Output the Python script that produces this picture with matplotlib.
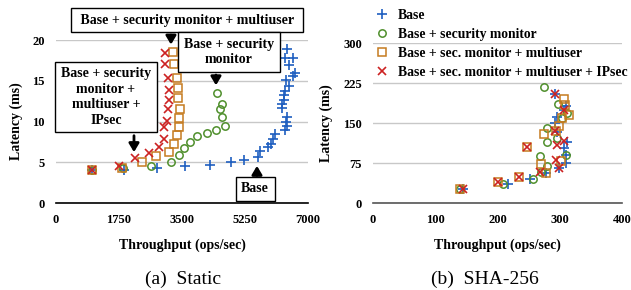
import matplotlib
matplotlib.use("Agg")
import matplotlib.pyplot as plt

plt.rcParams['font.family'] = ['Liberation Serif', 'DejaVu Serif']
plt.rcParams['font.weight'] = 'bold'

# ---- (a) Static : throughput (ops/sec) vs latency (ms)
static_base_x = [1000, 1900, 2800, 3590, 4290, 4850, 5230, 5620, 5670, 5900, 5970, 6040, 6070,
                 6370, 6410, 6390, 6430, 6270, 6270, 6320, 6320, 6365, 6480, 6385, 6580, 6645,
                 6480, 6365, 6580, 6430]
static_base_y = [4.1, 4.1, 4.3, 4.5, 4.7, 5.0, 5.3, 5.7, 6.4, 6.9, 7.3, 7.9, 8.5,
                 9.0, 9.4, 10.0, 10.6, 11.6, 12.2, 12.6, 13.2, 13.8, 14.3, 15.1, 15.6, 16.0,
                 16.9, 17.8, 17.8, 18.9]
static_mon_x = [1000, 1870, 2630, 3190, 3420, 3560, 3730, 3920, 4190, 4450, 4700, 4610, 4545, 4610, 4480]
static_mon_y = [4.1, 4.3, 4.5, 5.0, 5.9, 6.7, 7.5, 8.2, 8.6, 9.0, 9.5, 10.5, 11.5, 12.2, 13.5]
static_mu_x = [1000, 1840, 2400, 2770, 3145, 3285, 3360, 3405, 3425, 3450, 3380, 3380, 3350, 3285, 3240]
static_mu_y = [4.1, 4.3, 5.0, 5.8, 6.3, 7.2, 8.3, 9.3, 10.4, 11.5, 12.9, 14.1, 15.4, 17.0, 18.5]
static_ip_x = [1000, 1745, 2185, 2585, 2865, 2990, 3005, 3080, 3100, 3145, 3145, 3100, 3035, 3035]
static_ip_y = [4.1, 4.6, 5.5, 6.1, 6.9, 7.8, 9.3, 10.1, 11.5, 12.7, 13.9, 15.3, 17.1, 18.4]

# ---- (b) SHA-256
sha_base_x = [144, 216, 252, 277, 298, 310, 310, 311, 306, 296, 292, 295, 306, 310, 293]
sha_base_y = [26, 36, 46, 57, 66, 76, 91, 114, 103, 134, 150, 162, 175, 182, 205]
sha_mon_x = [139, 208, 257, 269, 279, 268, 310, 280, 295, 279, 303, 311, 297, 275]
sha_mon_y = [27, 37, 45, 59, 70, 89, 90, 114, 122, 142, 160, 170, 187, 217]
sha_mu_x = [139, 200, 235, 277, 269, 302, 248, 274, 294, 299, 303, 315, 308, 307]
sha_mu_y = [27, 39, 50, 57, 74, 79, 106, 130, 136, 145, 159, 165, 184, 196]
sha_ip_x = [144, 200, 235, 248, 268, 294, 299, 295, 306, 292, 306, 293]
sha_ip_y = [26, 39, 50, 106, 59, 81, 66, 109, 117, 136, 175, 205]

labels = ['Base', 'Base + security monitor', 'Base + sec. monitor + multiuser',
          'Base + sec. monitor + multiuser + IPsec']
colors = ['#1f5fc0', '#4f8f2c', '#c57b1f', '#cc2222']

fig = plt.figure(figsize=(6.31, 2.9), dpi=100)
ax1 = fig.add_axes([0.0887, 0.30, 0.3994, 0.562])
ax2 = fig.add_axes([0.591, 0.299, 0.395, 0.552])


def draw(ax, data, ms):
    (bx, by), (mx, my), (ux, uy), (ix, iy) = data
    ax.plot(bx, by, ls='none', marker='+', ms=ms + 1.5, mew=1.2, color=colors[0], label=labels[0])
    ax.plot(mx, my, ls='none', marker='o', ms=ms, mew=1.1, mfc='none', color=colors[1], label=labels[1])
    ax.plot(ux, uy, ls='none', marker='s', ms=ms, mew=1.1, mfc='none', color=colors[2], label=labels[2])
    ax.plot(ix, iy, ls='none', marker='x', ms=ms, mew=1.2, color=colors[3], label=labels[3])


def style(ax):
    for s in ['top', 'right', 'left']:
        ax.spines[s].set_visible(False)
    ax.spines['bottom'].set_linewidth(1.2)
    ax.tick_params(length=0, labelsize=9, pad=8)
    ax.grid(axis='y', color='#c8c8c8', lw=1)
    ax.set_axisbelow(True)
    ax.set_xlabel('Throughput (ops/sec)', fontsize=10, fontweight='bold', labelpad=9)
    ax.set_ylabel('Latency (ms)', fontsize=10, fontweight='bold', labelpad=7)


draw(ax1, [(static_base_x, static_base_y), (static_mon_x, static_mon_y),
           (static_mu_x, static_mu_y), (static_ip_x, static_ip_y)], 5.3)
ax1.set_xlim(0, 7000)
ax1.set_ylim(0, 20)
ax1.set_xticks([0, 1750, 3500, 5250, 7000])
ax1.set_yticks([0, 5, 10, 15, 20])
style(ax1)

draw(ax2, [(sha_base_x, sha_base_y), (sha_mon_x, sha_mon_y),
           (sha_mu_x, sha_mu_y), (sha_ip_x, sha_ip_y)], 5.3)
ax2.set_xlim(0, 400)
ax2.set_ylim(0, 300)
ax2.set_xticks([0, 100, 200, 300, 400])
ax2.set_yticks([0, 75, 150, 225, 300])
style(ax2)
ax2.spines['bottom'].set_color('#555555')
leg = ax2.legend(loc='upper left', bbox_to_anchor=(-0.02, 1.25), frameon=False, fontsize=9.8,
                 handletextpad=0.6, labelspacing=0.45, handlelength=1.2, borderaxespad=0)

# callout boxes with arrows
box = dict(boxstyle='square,pad=0.4', fc='white', ec='black', lw=1)
arrow = dict(arrowstyle='-|>,head_width=0.3,head_length=0.5', color='black', lw=2)
callouts = [
    (' Base + security monitor + multiuser ', (3640, 22.45), (3194, 20.95), (3194, 19.1)),
    ('Base + security\nmonitor', (4806, 18.5), (4444, 16.05), (4444, 14.1)),
    ('Base + security\nmonitor +\nmultiuser +\nIPsec', (1389, 13.0), (2167, 8.6), (2167, 5.9)),
    ('Base', (5530, 1.72), (5583, 3.05), (5583, 4.9)),
]
for txt, pos, start, tip in callouts:
    ax1.annotate('', xy=tip, xytext=start, arrowprops=arrow, annotation_clip=False)
    ax1.text(pos[0], pos[1], txt, ha='center', va='center', fontsize=10, fontweight='bold',
             bbox=box, linespacing=1.25, clip_on=False, zorder=5)

fig.text(183 / 631, 1 - 279 / 290, '(a)  Static', ha='center', va='center', fontsize=14, fontweight='normal')
fig.text(485 / 631, 1 - 279 / 290, '(b)  SHA-256', ha='center', va='center', fontsize=14, fontweight='normal')

fig.savefig('out.png', dpi=100)
